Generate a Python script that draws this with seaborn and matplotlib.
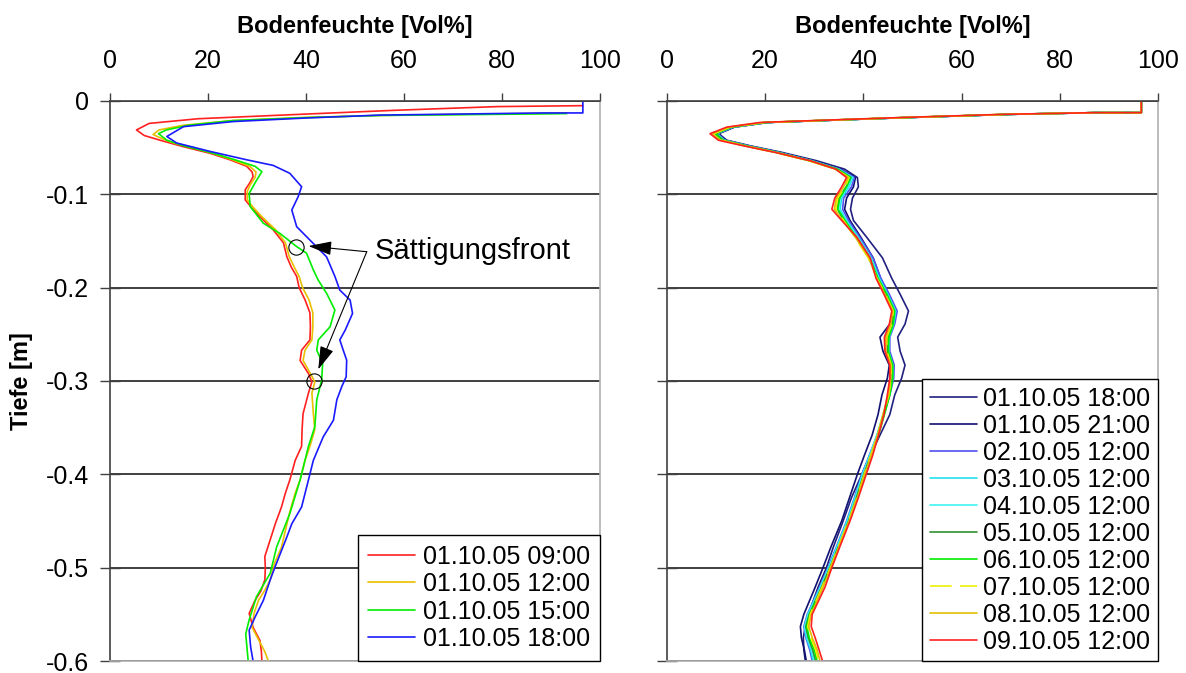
import numpy as np
import pandas as pd
import seaborn as sns
from matplotlib import pyplot as plt

# Soil moisture profiles (Bodenfeuchte vs. Tiefe)

# ---- left panel: 01.10.05, every 3 hours ----
left_labels = ['01.10.05 09:00', '01.10.05 12:00', '01.10.05 15:00', '01.10.05 18:00']
left_colors = ['#ff2020', '#e8c000', '#00ee00', '#1a1aff']

d_0900 = [-0.005, -0.006, -0.010, -0.014, -0.019, -0.024, -0.031, -0.037, -0.042, -0.049,
          -0.056, -0.063, -0.070, -0.076, -0.081, -0.088, -0.095, -0.106, -0.115, -0.124,
          -0.138, -0.152, -0.167, -0.178, -0.188, -0.200, -0.213, -0.227, -0.242, -0.256,
          -0.267, -0.278, -0.292, -0.301, -0.313, -0.335, -0.352, -0.370, -0.385, -0.406,
          -0.420, -0.435, -0.452, -0.470, -0.488, -0.500, -0.513, -0.525, -0.535, -0.549,
          -0.564, -0.578, -0.590, -0.600]
m_0900 = [96.5, 79.0, 58.0, 40.0, 18.0, 8.0, 5.4, 7.0, 10.2, 15.0,
          20.4, 24.5, 27.9, 29.0, 29.2, 28.5, 27.6, 27.6, 29.0, 30.6,
          33.3, 35.4, 36.1, 37.0, 38.1, 38.6, 39.8, 40.8, 40.9, 40.8,
          39.1, 38.8, 40.5, 41.2, 40.5, 39.4, 39.2, 39.1, 37.8, 36.7,
          35.8, 35.0, 33.8, 32.7, 31.6, 31.7, 31.6, 30.8, 29.6, 28.4,
          29.2, 30.6, 30.9, 31.0]

d_1200 = [-0.013, -0.014, -0.0155, -0.0175, -0.021, -0.026, -0.031, -0.036, -0.040, -0.045,
          -0.050, -0.056, -0.063, -0.070, -0.076, -0.082, -0.090, -0.097, -0.106, -0.115,
          -0.124, -0.138, -0.152, -0.167, -0.178, -0.188, -0.200, -0.213, -0.227, -0.242,
          -0.256, -0.267, -0.278, -0.292, -0.301, -0.313, -0.335, -0.352, -0.370, -0.385,
          -0.406, -0.420, -0.440, -0.460, -0.478, -0.495, -0.513, -0.525, -0.535, -0.549,
          -0.564, -0.578, -0.590, -0.600]
m_1200 = [93.2, 75.0, 55.0, 40.0, 25.0, 15.0, 10.0, 8.8, 10.5, 13.0,
          17.0, 21.0, 25.0, 28.5, 29.8, 29.6, 28.6, 28.0, 28.0, 29.4,
          31.0, 33.8, 35.8, 36.6, 37.6, 38.6, 39.3, 40.6, 41.4, 41.4,
          41.2, 39.8, 39.4, 40.9, 41.8, 41.2, 41.5, 41.8, 40.8, 39.8,
          38.8, 37.8, 36.7, 35.8, 35.0, 33.6, 32.7, 31.5, 30.3, 29.4,
          29.0, 30.4, 31.6, 32.3]

d_1500 = [-0.0135, -0.0145, -0.0155, -0.0178, -0.021, -0.026, -0.031, -0.035, -0.042, -0.048,
          -0.055, -0.063, -0.070, -0.0757, -0.085, -0.099, -0.113, -0.131, -0.142, -0.156,
          -0.163, -0.181, -0.192, -0.206, -0.224, -0.242, -0.256, -0.267, -0.281, -0.299,
          -0.320, -0.349, -0.370, -0.406, -0.442, -0.478, -0.506, -0.531, -0.556, -0.571,
          -0.600]
m_1500 = [93.2, 75.0, 55.0, 40.0, 25.0, 16.0, 11.5, 9.9, 11.6, 15.0,
          20.4, 25.5, 29.6, 31.0, 29.9, 28.4, 28.6, 31.3, 34.7, 38.1,
          40.1, 41.5, 42.5, 44.2, 45.9, 44.9, 42.5, 42.2, 43.4, 43.2,
          42.2, 41.8, 40.5, 38.8, 36.7, 34.0, 32.7, 29.9, 28.4, 27.7,
          28.2]

d_1800 = [0.0, -0.0128, -0.0128, -0.0151, -0.0182, -0.022, -0.0275, -0.038, -0.045, -0.054,
          -0.063, -0.069, -0.0775, -0.0918, -0.1025, -0.1168, -0.1347, -0.149, -0.167, -0.188,
          -0.2026, -0.2133, -0.2276, -0.2455, -0.256, -0.267, -0.2776, -0.2955, -0.306, -0.320,
          -0.342, -0.360, -0.385, -0.406, -0.435, -0.453, -0.467, -0.499, -0.513, -0.535,
          -0.553, -0.567, -0.585, -0.600]
m_1800 = [96.5, 96.5, 88.4, 55.1, 40.1, 25.2, 15.0, 11.6, 13.6, 20.4,
          27.9, 33.3, 36.7, 39.1, 38.4, 37.1, 38.1, 40.8, 44.2, 45.9,
          46.9, 49.0, 49.5, 48.0, 46.9, 47.6, 48.3, 48.2, 47.3, 46.3,
          45.6, 43.5, 41.5, 40.5, 39.1, 37.1, 36.1, 33.7, 32.7, 31.3,
          29.6, 28.4, 28.7, 29.2]

left_depths = [d_0900, d_1200, d_1500, d_1800]
left_values = [m_0900, m_1200, m_1500, m_1800]

# saturation front markers and text anchor
front_x = [38.0, 41.6]
front_y = [-0.156, -0.2998]
arrow_tip_x = [40.5, 42.5]
arrow_tip_y = [-0.1554, -0.2876]
arrow_start = (52.4, -0.1615)

# ---- right panel: 01.10.05 18:00 to 09.10.05 ----
right_labels = ['01.10.05 18:00', '01.10.05 21:00', '02.10.05 12:00', '03.10.05 12:00',
                '04.10.05 12:00', '05.10.05 12:00', '06.10.05 12:00', '07.10.05 12:00',
                '08.10.05 12:00', '09.10.05 12:00']
right_colors = ['#202080', '#101070', '#5050f0', '#20e0f0', '#40f4f4',
                '#309030', '#00ee00', '#f0f000', '#e0c000', '#ff2020']

depth_r = [0.0, -0.0125, -0.0125, -0.0143, -0.018, -0.023, -0.028, -0.035, -0.042, -0.048,
           -0.055, -0.064, -0.073, -0.082, -0.092, -0.104, -0.116, -0.128, -0.146, -0.168,
           -0.19, -0.207, -0.225, -0.239, -0.253, -0.268, -0.283, -0.297, -0.315, -0.336,
           -0.358, -0.38, -0.40, -0.425, -0.45, -0.478, -0.50, -0.521, -0.55, -0.563,
           -0.575, -0.588, -0.60]

r_0118 = [96.6, 96.6, 87.0, 70.0, 47.6, 20.6, 13.8, 10.6, 12.2, 17.0,
          23.4, 30.5, 36.2, 38.8, 39.0, 37.8, 37.4, 38.0, 40.7, 43.9,
          45.8, 47.5, 49.2, 48.5, 47.0, 47.5, 48.5, 47.8, 46.4, 45.4,
          43.4, 41.4, 39.7, 37.6, 35.9, 33.9, 32.5, 30.8, 28.8, 28.2,
          27.8, 27.9, 28.2]
r_0121 = [96.6, 96.6, 87.0, 69.8, 47.4, 20.5, 13.6, 10.4, 11.9, 16.6,
          22.8, 29.8, 35.4, 38.4, 38.0, 36.6, 36.2, 37.3, 39.5, 42.0,
          43.5, 45.0, 46.5, 45.4, 43.4, 44.0, 45.3, 44.9, 43.8, 43.0,
          41.8, 40.2, 38.8, 37.2, 35.6, 33.4, 31.8, 30.2, 27.9, 27.2,
          27.4, 28.0, 28.4]
r_0212 = [96.6, 96.6, 87.0, 69.8, 47.4, 20.4, 13.5, 10.3, 11.8, 16.5,
          22.7, 29.6, 35.2, 38.2, 37.6, 36.0, 35.8, 37.0, 39.3, 42.0,
          43.6, 45.3, 46.9, 46.4, 45.4, 45.4, 46.3, 46.2, 45.4, 44.2,
          42.8, 41.2, 39.7, 38.2, 36.6, 34.5, 32.8, 31.1, 28.6, 27.9,
          28.3, 29.1, 29.6]
r_0312 = [96.6, 96.6, 87.0, 69.6, 47.2, 20.3, 13.4, 10.2, 11.7, 16.4,
          22.6, 29.5, 35.0, 37.9, 37.1, 35.6, 35.3, 36.6, 39.0, 41.6,
          43.3, 45.0, 46.6, 46.2, 45.3, 45.2, 46.0, 46.0, 45.3, 44.1,
          42.8, 41.3, 39.8, 38.3, 36.7, 34.6, 32.9, 31.2, 28.7, 28.0,
          28.4, 29.3, 29.8]
r_0412 = [96.6, 96.6, 87.0, 69.6, 47.2, 20.2, 13.3, 10.1, 11.6, 16.3,
          22.5, 29.4, 34.9, 37.7, 36.8, 35.3, 35.0, 36.4, 38.8, 41.4,
          43.1, 44.8, 46.4, 46.0, 45.1, 45.0, 45.9, 45.9, 45.2, 44.0,
          42.8, 41.3, 39.9, 38.4, 36.8, 34.7, 33.0, 31.3, 28.8, 28.1,
          28.6, 29.5, 30.0]
r_0512 = [96.6, 96.6, 87.0, 69.5, 47.0, 20.1, 13.2, 10.0, 11.5, 16.2,
          22.4, 29.3, 34.8, 37.5, 36.5, 35.0, 34.7, 36.1, 38.5, 41.1,
          42.9, 44.6, 46.2, 45.9, 45.0, 44.9, 45.8, 45.9, 45.3, 44.2,
          43.0, 41.5, 40.1, 38.6, 37.0, 34.9, 33.2, 31.5, 29.0, 28.3,
          28.8, 29.7, 30.3]
r_0612 = [96.6, 96.6, 87.0, 69.5, 47.0, 20.0, 13.0, 9.8, 11.3, 16.0,
          22.2, 29.0, 34.6, 37.4, 36.6, 35.2, 34.8, 36.3, 38.6, 41.3,
          43.0, 44.8, 46.4, 46.1, 45.2, 45.1, 46.0, 46.0, 45.4, 44.3,
          43.1, 41.6, 40.3, 38.8, 37.1, 35.0, 33.4, 31.7, 29.1, 28.5,
          29.0, 30.0, 30.6]
r_0712 = [96.6, 96.6, 87.0, 69.3, 46.8, 19.8, 12.9, 9.6, 11.1, 15.9,
          22.0, 28.9, 34.4, 37.1, 36.3, 34.8, 34.4, 36.0, 38.3, 41.0,
          42.8, 44.5, 46.1, 45.8, 44.8, 44.8, 45.7, 45.7, 45.2, 44.1,
          42.9, 41.5, 40.2, 38.7, 37.0, 34.9, 33.3, 31.6, 29.2, 28.7,
          29.3, 30.3, 30.9]
r_0812 = [96.6, 96.6, 87.0, 69.0, 46.5, 19.5, 12.6, 9.3, 10.9, 15.8,
          22.1, 29.0, 34.3, 36.9, 36.0, 34.5, 34.1, 35.8, 38.4, 41.2,
          42.7, 44.4, 46.0, 45.6, 44.6, 44.6, 45.6, 45.6, 45.1, 44.0,
          42.9, 41.6, 40.3, 38.8, 37.1, 35.0, 33.4, 31.8, 29.4, 28.9,
          29.6, 30.6, 31.2]
r_0912 = [96.6, 96.6, 87.0, 68.5, 46.1, 19.0, 12.2, 8.8, 10.5, 15.6,
          22.0, 29.2, 34.4, 36.6, 35.6, 34.2, 33.6, 35.6, 38.7, 41.4,
          42.6, 44.2, 45.8, 45.3, 44.3, 44.4, 45.4, 45.4, 44.9, 44.2,
          43.1, 41.9, 40.6, 39.0, 37.3, 35.2, 33.6, 32.2, 29.6, 29.4,
          30.2, 31.0, 31.7]

right_values = [r_0118, r_0121, r_0212, r_0312, r_0412, r_0512, r_0612, r_0712, r_0812, r_0912]

yticks = [0, -0.1, -0.2, -0.3, -0.4, -0.5, -0.6]
ytick_labels = ['0', '-0.1', '-0.2', '-0.3', '-0.4', '-0.5', '-0.6']
xticks = [0, 20, 40, 60, 80, 100]

sns.set_style("white")
plt.rcParams['font.family'] = ['Liberation Sans', 'DejaVu Sans']
plt.rcParams['axes.unicode_minus'] = False
plt.rcParams['text.color'] = 'black'
plt.rcParams['axes.labelcolor'] = 'black'
plt.rcParams['xtick.color'] = 'black'
plt.rcParams['ytick.color'] = 'black'

fig = plt.figure(figsize=(11.86, 6.73), dpi=100)
ax1 = fig.add_axes([0.09275, 0.01783, 0.41315, 0.83210])
ax2 = fig.add_axes([0.56222, 0.01783, 0.41417, 0.83210])

for lab, col, d, m in zip(left_labels, left_colors, left_depths, left_values):
    sns.lineplot(x=m, y=d, sort=False, estimator=None, color=col, lw=1.2,
                 label=lab, ax=ax1)

for lab, col, m in zip(right_labels, right_colors, right_values):
    ls = (0, (13, 5)) if lab.startswith('07.10') else '-'
    sns.lineplot(x=m, y=depth_r, sort=False, estimator=None, color=col, lw=1.2,
                 linestyle=ls, label=lab, ax=ax2)

# Sättigungsfront markers and arrows
ax1.plot(front_x, front_y, ls='none', marker='o', ms=11, mfc='none', mec='black', mew=0.8)
for tx, ty in zip(arrow_tip_x, arrow_tip_y):
    ax1.annotate('', xy=(tx, ty), xytext=arrow_start,
                 arrowprops=dict(arrowstyle='-|>,head_length=0.6,head_width=0.18',
                                 color='black', lw=0.8, mutation_scale=24,
                                 shrinkA=0, shrinkB=0))
ax1.text(54.1, -0.161, 'Sättigungsfront', fontsize=21, ha='left', va='center', color='black')

for i, ax in enumerate([ax1, ax2]):
    ax.set_xlim(0, 100)
    ax.set_ylim(-0.6, 0)
    ax.set_xticks(xticks)
    ax.set_yticks(yticks)
    ax.xaxis.tick_top()
    ax.xaxis.set_label_position('top')
    ax.set_xlabel('Bodenfeuchte [Vol%]', fontsize=17, fontweight='bold', labelpad=12,
                  color='black')
    ax.tick_params(axis='x', direction='out', length=6, width=1, color='#404040',
                   pad=14, labelsize=18, labelcolor='black', top=True, bottom=False,
                   labeltop=True, labelbottom=False)
    ax.tick_params(axis='y', direction='inout', length=14, width=1, color='#404040',
                   pad=8, labelsize=18, labelcolor='black', left=True)
    ax.yaxis.grid(True, color='#303030', lw=1.3)
    ax.xaxis.grid(False)
    ax.set_axisbelow(True)
    for side in ['top', 'left']:
        ax.spines[side].set_color('#404040')
        ax.spines[side].set_linewidth(1.2)
    for side in ['right', 'bottom']:
        ax.spines[side].set_color('#b0b0b0')
        ax.spines[side].set_linewidth(1.2)
    if i == 0:
        ax.set_yticklabels(ytick_labels)
        ax.set_ylabel('Tiefe [m]', fontsize=17, fontweight='bold', labelpad=9, color='black')
    else:
        ax.set_yticklabels([])
        ax.set_ylabel('')

leg1 = ax1.legend(loc='lower right', borderaxespad=0, fontsize=18, frameon=True,
                  fancybox=False, framealpha=1, edgecolor='black',
                  handlelength=1.9, handletextpad=0.3, labelspacing=0.14, borderpad=0.4)
leg1.get_frame().set_linewidth(1.0)
leg2 = ax2.legend(loc='lower right', borderaxespad=0, fontsize=18, frameon=True,
                  fancybox=False, framealpha=1, edgecolor='black',
                  handlelength=1.9, handletextpad=0.25, labelspacing=0.12, borderpad=0.3)
leg2.get_frame().set_linewidth(1.0)

plt.savefig('out.png', dpi=100)
